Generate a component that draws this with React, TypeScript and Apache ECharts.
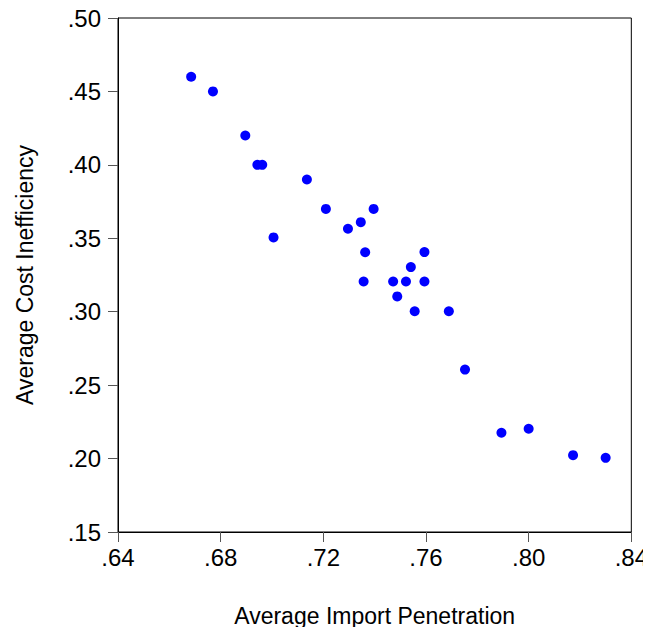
import React, { useEffect, useRef } from "react";
import * as echarts from "echarts";

const importPenetration = [
  0.6685, 0.677, 0.6896, 0.6943, 0.6962, 0.7136, 0.721, 0.7396, 0.7346, 0.7296,
  0.7006, 0.7363, 0.7594, 0.7541, 0.7357, 0.7472, 0.7522, 0.7594, 0.7488, 0.7556,
  0.7689, 0.7752, 0.7894, 0.80, 0.8173, 0.83,
];
const costInefficiency = [
  0.46, 0.45, 0.42, 0.40, 0.40, 0.39, 0.37, 0.37, 0.361, 0.3565,
  0.3506, 0.3405, 0.3406, 0.3304, 0.3206, 0.3206, 0.3206, 0.3206, 0.3104, 0.3003,
  0.3003, 0.2606, 0.2176, 0.2203, 0.2023, 0.2005,
];

const xTitle = "Average Import Penetration";
const yTitle = "Average Cost Inefficiency";

const fmt = (v: number) => v.toFixed(2).replace(/^0/, "");

export default function App() {
  const ref = useRef<HTMLDivElement>(null);
  useEffect(() => {
    if (!ref.current) return;
    const chart = echarts.init(ref.current, undefined, { renderer: "svg" });
    const font = "'Liberation Sans', Arial, sans-serif";
    chart.setOption({
      animation: false,
      backgroundColor: "#fff",
      grid: {
        left: 118,
        top: 18,
        right: 18,
        bottom: 103,
        show: true,
        borderColor: "#000",
        borderWidth: 1,
        backgroundColor: "transparent",
      },
      xAxis: {
        type: "value",
        min: 0.64,
        max: 0.84,
        interval: 0.04,
        name: xTitle,
        nameLocation: "middle",
        nameGap: 72,
        nameTextStyle: { fontSize: 23, color: "#000", fontFamily: font },
        axisLine: { show: true, lineStyle: { color: "#000", width: 1 } },
        axisTick: { show: true, inside: false, length: 10, lineStyle: { color: "#555" } },
        axisLabel: {
          formatter: fmt,
          fontSize: 24,
          color: "#000",
          fontFamily: font,
          margin: 13,
        },
        splitLine: { show: false },
      },
      yAxis: {
        type: "value",
        min: 0.15,
        max: 0.5,
        interval: 0.05,
        name: yTitle,
        nameLocation: "middle",
        nameGap: 82,
        nameTextStyle: { fontSize: 23, color: "#000", fontFamily: font },
        axisLine: { show: true, lineStyle: { color: "#000", width: 1 } },
        axisTick: { show: true, inside: false, length: 10, lineStyle: { color: "#555" } },
        axisLabel: {
          formatter: fmt,
          fontSize: 24,
          color: "#000",
          fontFamily: font,
          margin: 17,
        },
        splitLine: { show: false },
      },
      series: [
        {
          type: "scatter",
          symbol: "circle",
          symbolSize: 10,
          itemStyle: { color: "#0000FF", opacity: 1 },
          data: importPenetration.map((x, i) => [x, costInefficiency[i]]),
        },
      ],
    });
    return () => chart.dispose();
  }, []);
  return <div ref={ref} style={{ width: 651, height: 635, margin: -8 }} />;
}
